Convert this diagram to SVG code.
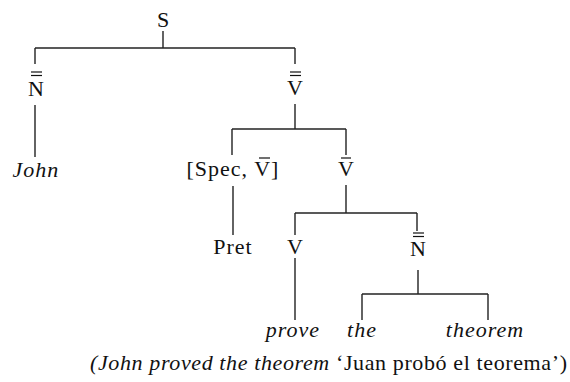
<svg xmlns="http://www.w3.org/2000/svg" width="570" height="382" viewBox="0 0 570 382">
<style>
text{font-family:'Liberation Serif','Times New Roman',serif;font-size:22px;fill:#111;text-anchor:middle}
.i{font-style:italic;letter-spacing:1px}
.w{letter-spacing:1px}
.e line{stroke:#222;stroke-width:1.4}
.bar{stroke:#111;stroke-width:1.2}
</style>
<rect width="570" height="382" fill="#fff"/>
<g class="e" id="connectors">
<line x1="163" y1="31" x2="163" y2="48"/>
<line x1="35" y1="48" x2="295" y2="48"/>
<line x1="35" y1="48" x2="35" y2="64"/>
<line x1="295" y1="48" x2="295" y2="64"/>
<line x1="35" y1="105" x2="35" y2="157"/>
<line x1="295" y1="104" x2="295" y2="129"/>
<line x1="232" y1="129" x2="346" y2="129"/>
<line x1="232" y1="129" x2="232" y2="155"/>
<line x1="346" y1="129" x2="346" y2="155"/>
<line x1="233" y1="186" x2="233" y2="235"/>
<line x1="346" y1="185" x2="346" y2="213"/>
<line x1="295" y1="213" x2="417" y2="213"/>
<line x1="295" y1="213" x2="295" y2="235"/>
<line x1="417" y1="213" x2="417" y2="231"/>
<line x1="295" y1="258" x2="295" y2="320"/>
<line x1="418" y1="270" x2="418" y2="294"/>
<line x1="362" y1="294" x2="488" y2="294"/>
<line x1="362" y1="294" x2="362" y2="320"/>
<line x1="488" y1="294" x2="488" y2="320"/>
</g>
<g id="S"><text x="163" y="27">S</text></g>
<g id="N2"><text x="36" y="96">N</text><line class="bar" x1="31" y1="72" x2="42" y2="72"/><line class="bar" x1="31" y1="75.5" x2="42" y2="75.5"/></g>
<g id="V2"><text x="295" y="95">V</text><line class="bar" x1="290" y1="72" x2="301" y2="72"/><line class="bar" x1="290" y1="75.5" x2="301" y2="75.5"/></g>
<g id="John"><text class="i" x="36" y="177">John</text></g>
<g id="SpecV"><text class="w" x="233" y="176">[Spec, V]</text><line class="bar" x1="259" y1="158" x2="270" y2="158"/></g>
<g id="V1"><text x="346" y="176">V</text><line class="bar" x1="341" y1="158" x2="351" y2="158"/></g>
<g id="Pret"><text class="w" x="233" y="254">Pret</text></g>
<g id="V"><text x="295" y="254">V</text></g>
<g id="N2b"><text x="418" y="256">N</text><line class="bar" x1="413" y1="233" x2="424" y2="233"/><line class="bar" x1="413" y1="236.5" x2="424" y2="236.5"/></g>
<g id="prove"><text class="i" x="293" y="337">prove</text></g>
<g id="the"><text class="i" x="362" y="337">the</text></g>
<g id="theorem"><text class="i" x="485" y="337">theorem</text></g>
<g id="caption"><text x="328.5" y="370" textLength="477" lengthAdjust="spacing"><tspan font-style="italic">(John proved the theorem</tspan> ‘Juan probó el teorema’)</text></g>
</svg>
